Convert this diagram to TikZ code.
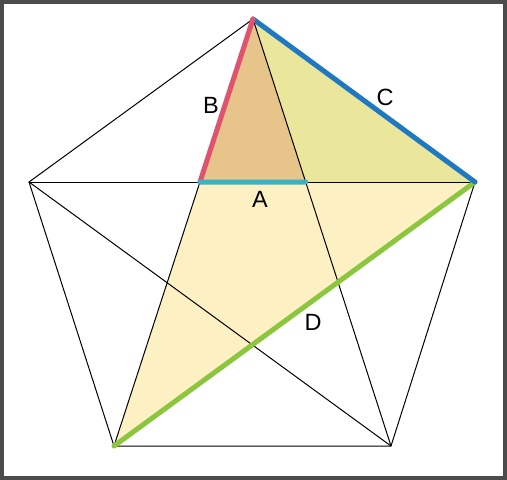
\documentclass[tikz,border=0pt]{standalone}
\usepackage{fontspec}
\setmainfont{Liberation Sans}
\usepackage{tikz}
\usetikzlibrary{calc}

\definecolor{frame}{HTML}{4B4B4B}
\definecolor{paleyellow}{HTML}{FDF0C3}
\definecolor{khaki}{HTML}{EAE69B}
\definecolor{tan}{HTML}{E6C48A}
\definecolor{sideA}{HTML}{3AB2C6}
\definecolor{sideB}{HTML}{E0536F}
\definecolor{sideC}{HTML}{1E78C2}
\definecolor{sideD}{HTML}{8CC63F}

\tikzset{
	edge/.style={black, line width=1pt},
	side/.style={line width=5pt, line cap=round},
	lbl/.style={font=\fontsize{23.5}{24}\selectfont, inner sep=0pt}
}

\begin{document}
\begin{tikzpicture}[x=1pt, y=-1pt]
		%frame and bounding box
		\useasboundingbox (0,0) rectangle (507,480);
		\fill [frame] (0,0) rectangle (507,480);
		\fill [white] (4,4) rectangle (503,476);
		
		%definition of the pentagon corners
		\coordinate (T) at (253,19);
		\coordinate (R) at (475,182);
		\coordinate (BR) at (391,446);
		\coordinate (BL) at (114,446);
		\coordinate (L) at (29,182);
		
		%points where the diagonals from T cross L--R
		\coordinate (A1) at (intersection of T--BL and L--R);
		\coordinate (A2) at (intersection of T--BR and L--R);
		
		%shaded triangles
		\fill [paleyellow] (T) -- (BL) -- (R) -- cycle;
		\fill [khaki] (T) -- (A1) -- (R) -- cycle;
		\fill [tan] (T) -- (A1) -- (A2) -- cycle;
		
		%pentagon
		\draw [edge] (R) -- (BR) -- (BL) -- (L) -- (T);
		
		%diagonals
		\draw [edge] (L) -- (R);
		\draw [edge] (L) -- (BR);
		\draw [edge] (T) -- (BL);
		\draw [edge] (T) -- (BR);
		
		%coloured sides
		\draw [side, sideD] (BL) -- (R);
		\draw [side, sideC] (T) -- (R);
		\draw [side, sideB] (T) -- (A1);
		\draw [side, sideA] (A1) -- (A2);
		
		%labels
		\node [lbl] (labelA) at (260,199) {A};
		\node [lbl] (labelB) at (211,105) {B};
		\node [lbl] (labelC) at (385,97) {C};
		\node [lbl] (labelD) at (313,322) {D};
	\end{tikzpicture}
\end{document}
